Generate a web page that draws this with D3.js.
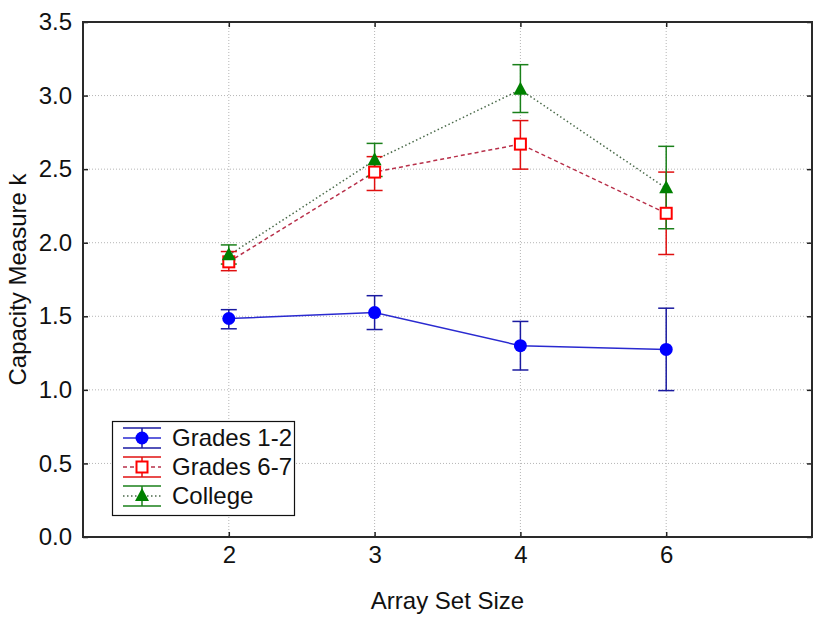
<!DOCTYPE html>
<html><head><meta charset="utf-8">
<script src="https://cdn.jsdelivr.net/npm/d3@7"></script>
<style>body{margin:0;background:#fff}svg{display:block}text{font-family:"Liberation Sans",Arial,sans-serif;fill:#111}</style>
</head><body><div id="chart"></div>
<script>
const categories = ["2","3","4","6"];
const yTicks = [0,0.5,1,1.5,2,2.5,3,3.5];
const seriesNames = ["Grades 1-2","Grades 6-7","College"];
const grades12 = [1.485, 1.525, 1.30, 1.275];
const grades12Lo = [1.415, 1.41, 1.135, 0.995];
const grades12Hi = [1.545, 1.64, 1.465, 1.555];
const grades67 = [1.87, 2.48, 2.67, 2.20];
const grades67Lo = [1.81, 2.355, 2.50, 1.92];
const grades67Hi = [1.94, 2.585, 2.83, 2.48];
const college = [1.915, 2.56, 3.04, 2.37];
const collegeLo = [1.855, 2.45, 2.885, 2.095];
const collegeHi = [1.985, 2.675, 3.21, 2.655];

const W = 822, H = 619;
const m = {l:83, r:10, t:22, b:82};
const FS = "24px";
const svg = d3.select("#chart").append("svg").attr("width",W).attr("height",H);
const x = d3.scalePoint().domain(categories).range([m.l, W-m.r]).padding(1);
const y = d3.scaleLinear().domain([0,3.5]).range([H-m.b, m.t]);
const x0 = m.l, x1 = W-m.r, y0 = H-m.b, y1 = m.t;

// grid
const g = svg.append("g");
g.selectAll(".hg").data(yTicks.filter(v=>v>0&&v<3.5)).join("line")
  .attr("x1",x0).attr("x2",x1).attr("y1",d=>y(d)).attr("y2",d=>y(d))
  .attr("stroke","#b5b5b5").attr("stroke-width",1).attr("stroke-dasharray","1,2");
g.selectAll(".vg").data(categories).join("line")
  .attr("x1",d=>x(d)).attr("x2",d=>x(d)).attr("y1",y1).attr("y2",y0)
  .attr("stroke","#b5b5b5").attr("stroke-width",1).attr("stroke-dasharray","1,2");

// axes via d3 axis (inner ticks)
const axL = svg.append("g").attr("transform",`translate(${x0},0)`)
  .call(d3.axisLeft(y).tickValues(yTicks).tickFormat(d3.format(".1f")).tickSizeInner(-5).tickSizeOuter(0).tickPadding(11));
const axB = svg.append("g").attr("transform",`translate(0,${y0})`)
  .call(d3.axisBottom(x).tickSizeInner(-5).tickSizeOuter(0).tickPadding(9));
const axR = svg.append("g").attr("transform",`translate(${x1},0)`)
  .call(d3.axisRight(y).tickValues(yTicks).tickFormat("").tickSizeInner(-5).tickSizeOuter(0));
const axT = svg.append("g").attr("transform",`translate(0,${y1})`)
  .call(d3.axisTop(x).tickFormat("").tickSizeInner(-5).tickSizeOuter(0));
[axL,axB,axR,axT].forEach(a=>{
  a.select(".domain").remove();
  a.selectAll("line").attr("stroke","#222").attr("stroke-width",1.5);
  a.selectAll("text").style("font-size",FS).attr("fill","#111");
});
svg.append("rect").attr("x",x0).attr("y",y1).attr("width",x1-x0).attr("height",y0-y1)
  .attr("fill","none").attr("stroke","#2a2a2a").attr("stroke-width",2);

// series
const series = [
  {name:seriesNames[0], v:grades12, lo:grades12Lo, hi:grades12Hi, line:"#2a2ad0", dash:null, bar:"#1a1aa0", marker:"circle"},
  {name:seriesNames[1], v:grades67, lo:grades67Lo, hi:grades67Hi, line:"#b8304a", dash:"4,3", bar:"#e01010", marker:"square"},
  {name:seriesNames[2], v:college, lo:collegeLo, hi:collegeHi, line:"#4a6a4a", dash:"1.5,2.5", bar:"#1a801a", marker:"triangle"}
];
const lineGen = d3.line().x((d,i)=>x(categories[i])).y(d=>y(d));
function drawMarker(sel, type, cx, cy){
  if(type==="circle") sel.append("circle").attr("cx",cx).attr("cy",cy).attr("r",6.5).attr("fill","#0000ff");
  else if(type==="square") sel.append("rect").attr("x",cx-5.5).attr("y",cy-5.5).attr("width",11).attr("height",11)
      .attr("fill","#fff").attr("stroke","#ff0000").attr("stroke-width",2);
  else sel.append("path").attr("d",`M${cx},${cy-8}L${cx+7},${cy+5}L${cx-7},${cy+5}Z`).attr("fill","#008000");
}
series.forEach(s=>{
  const p = svg.append("path").attr("d",lineGen(s.v)).attr("fill","none").attr("stroke",s.line).attr("stroke-width",1.5);
  if(s.dash) p.attr("stroke-dasharray",s.dash);
});
series.forEach(s=>{
  const gg = svg.append("g");
  categories.forEach((c,i)=>{
    const cx = x(c);
    gg.append("line").attr("x1",cx).attr("x2",cx).attr("y1",y(s.lo[i])).attr("y2",y(s.hi[i])).attr("stroke",s.bar).attr("stroke-width",1.5);
    [s.lo[i],s.hi[i]].forEach(v=>gg.append("line").attr("x1",cx-8).attr("x2",cx+8).attr("y1",y(v)).attr("y2",y(v)).attr("stroke",s.bar).attr("stroke-width",1.5));
  });
});
series.forEach(s=>{
  const gg = svg.append("g");
  categories.forEach((c,i)=>drawMarker(gg, s.marker, x(c), y(s.v[i])));
});

// legend
const lg = svg.append("g");
lg.append("rect").attr("x",112.5).attr("y",421.5).attr("width",182).attr("height",94).attr("fill","#fff").attr("stroke","#111").attr("stroke-width",1.2);
series.forEach((s,i)=>{
  const cy = 438 + i*29, cx = 142;
  const l = lg.append("line").attr("x1",123).attr("x2",161).attr("y1",cy).attr("y2",cy).attr("stroke",s.line).attr("stroke-width",1.5);
  if(s.dash) l.attr("stroke-dasharray",s.dash);
  lg.append("line").attr("x1",cx).attr("x2",cx).attr("y1",cy-10).attr("y2",cy+10).attr("stroke",s.bar).attr("stroke-width",1.5);
  [cy-10,cy+10].forEach(yy=>lg.append("line").attr("x1",123).attr("x2",161).attr("y1",yy).attr("y2",yy).attr("stroke",s.bar).attr("stroke-width",1.5));
  drawMarker(lg, s.marker, cx, cy);
  lg.append("text").attr("x",172).attr("y",cy).attr("dy","0.35em").style("font-size",FS).text(s.name);
});

// axis titles
svg.append("text").attr("x",(x0+x1)/2).attr("y",609).attr("text-anchor","middle").style("font-size",FS).text("Array Set Size");
svg.append("text").attr("transform",`translate(26,${(y0+y1)/2}) rotate(-90)`).attr("text-anchor","middle").style("font-size",FS).text("Capacity Measure k");
</script></body></html>
